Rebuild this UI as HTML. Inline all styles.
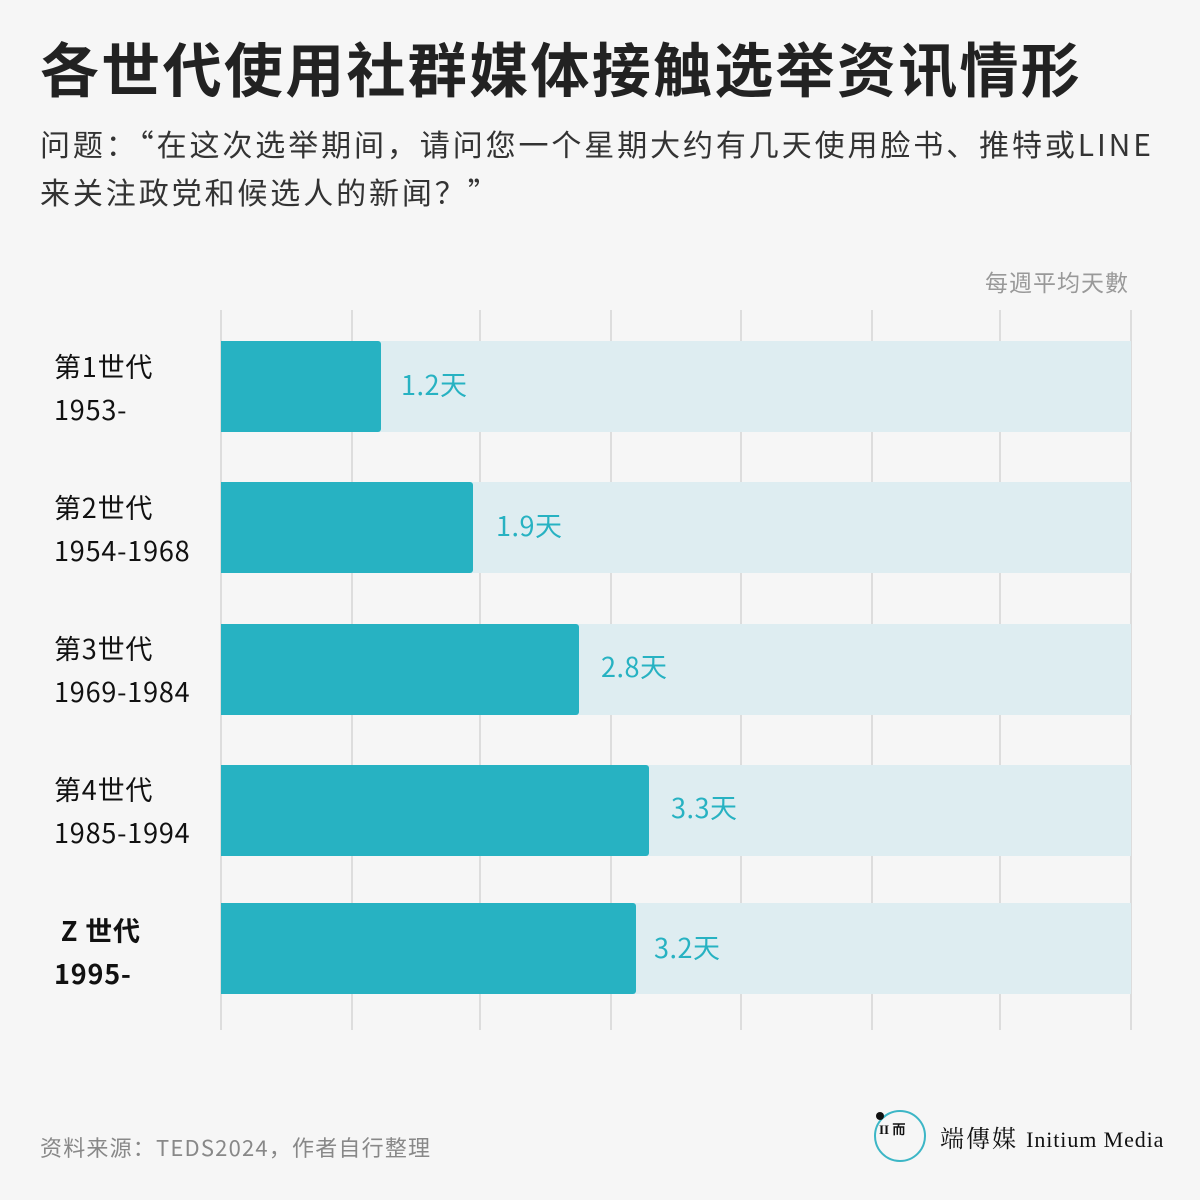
<!DOCTYPE html>
<html><head><meta charset="utf-8"><style>
body{margin:0;width:1200px;height:1200px;background:#f6f6f6;position:relative;overflow:hidden;font-family:"Liberation Sans","Noto Sans CJK SC",sans-serif;color:#222}
.a{position:absolute;white-space:nowrap}
.g{position:absolute;top:310px;height:720px;width:2px;background:#dddddd}
.t{position:absolute;left:221px;width:910px;height:91px;background:#deedf1}
.b{position:absolute;left:221px;height:91px;background:#27b2c2;border-radius:0 3px 3px 0}
.v{position:absolute;font-size:27px;color:#27b2c2;font-family:"Noto Sans CJK SC",sans-serif;letter-spacing:0.5px}
.l{position:absolute;left:54px;font-size:27px;line-height:43px;font-family:"Noto Sans CJK SC",sans-serif;color:#111;letter-spacing:0.8px}
</style></head><body>
<div class="a" style="left:40px;top:24px;font-size:59px;font-weight:bold;font-family:'Noto Sans CJK SC',sans-serif;color:#222;letter-spacing:2.3px">各世代使用社群媒体接触选举资讯情形</div>
<div class="a" style="left:40px;top:119px;font-size:30px;line-height:48px;font-family:'Noto Sans CJK SC',sans-serif;color:#333;letter-spacing:2.9px">问题：“在这次选举期间，请问您一个星期大约有几天使用脸书、推特或LINE<br>来关注政党和候选人的新闻？”</div>
<div class="a" style="left:985px;top:264px;font-size:23px;color:#999;font-family:'Noto Sans CJK SC',sans-serif;letter-spacing:1px">每週平均天數</div>
<div class="g" style="left:220px"></div><div class="g" style="left:351px"></div><div class="g" style="left:479px"></div><div class="g" style="left:610px"></div><div class="g" style="left:740px"></div><div class="g" style="left:871px"></div><div class="g" style="left:999px"></div><div class="g" style="left:1130px"></div>
<div class="t" style="top:341px"></div><div class="b" style="top:341px;width:160px"></div><div class="v" style="left:401px;top:364px">1.2天</div>
<div class="t" style="top:482px"></div><div class="b" style="top:482px;width:252px"></div><div class="v" style="left:496px;top:505px">1.9天</div>
<div class="t" style="top:624px"></div><div class="b" style="top:624px;width:358px"></div><div class="v" style="left:601px;top:646px">2.8天</div>
<div class="t" style="top:765px"></div><div class="b" style="top:765px;width:428px"></div><div class="v" style="left:671px;top:787px">3.3天</div>
<div class="t" style="top:903px"></div><div class="b" style="top:903px;width:415px"></div><div class="v" style="left:654px;top:927px">3.2天</div>
<div class="l" style="top:344px">第1世代<br>1953-</div>
<div class="l" style="top:485px">第2世代<br>1954-1968</div>
<div class="l" style="top:626px">第3世代<br>1969-1984</div>
<div class="l" style="top:767px">第4世代<br>1985-1994</div>
<div class="l" style="top:908px;font-weight:bold">&nbsp;Z 世代<br>1995-</div>
<div class="a" style="left:40px;top:1131px;font-size:22px;color:#888;font-family:'Noto Sans CJK SC',sans-serif;letter-spacing:1.2px">资料来源：TEDS2024，作者自行整理</div>
<div class="a" style="left:874px;top:1110px;width:48px;height:48px;border:2px solid #3cb6c6;border-radius:50%"></div>
<div class="a" style="left:876px;top:1112px;width:8px;height:8px;background:#111;border-radius:50%"></div>
<div class="a" style="left:879px;top:1119px;font-size:13px;font-family:'Liberation Serif',serif;color:#111;font-weight:bold">II 而</div>
<div class="a" style="left:940px;top:1119px;font-size:24px;font-family:'Noto Serif CJK SC',serif;color:#111;letter-spacing:2px">端傳媒 <span style="font-family:'Liberation Serif',serif;font-size:22px;letter-spacing:0.9px">Initium Media</span></div>
</body></html>
